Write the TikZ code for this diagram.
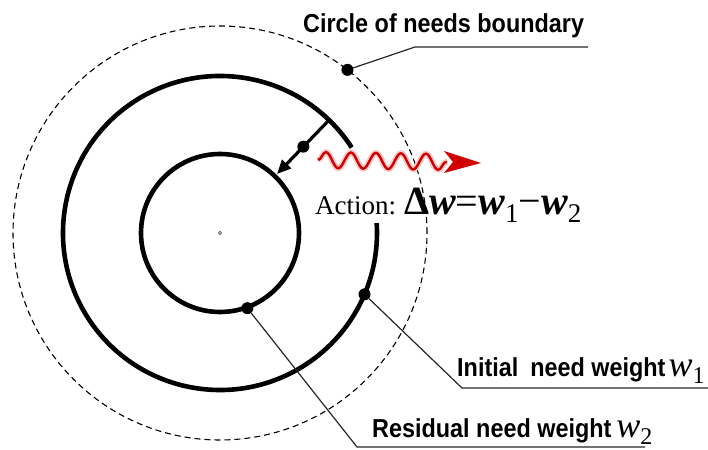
\documentclass[tikz,border=0pt]{standalone}
\usepackage{fontspec}
\setmainfont{Liberation Serif}
\newfontfamily\lab[FakeStretch=0.9]{Liberation Sans}
\usetikzlibrary{decorations.pathmorphing,arrows.meta,calc}
\newcommand\wsym[1]{{\rmfamily\mdseries\fontsize{36}{40}\selectfont\itshape w}\raisebox{-7pt}{\rmfamily\mdseries\fontsize{24}{26}\selectfont #1}}
\newcommand\bigF{\fontsize{40}{44}\selectfont}
\newcommand\subF{\fontsize{27}{29}\selectfont}
\begin{document}
\begin{tikzpicture}[x=1pt,y=1pt,
  thickc/.style={line width=4.6pt},
  dashc/.style={line width=1.1pt, dash pattern=on 6pt off 4pt},
  lead/.style={line width=1.2pt, black!85},
  dotn/.style={circle, fill=black, inner sep=0pt, minimum size=12pt},
  labtxt/.style={inner sep=0pt, anchor=base west, font=\lab\bfseries\fontsize{26}{30}\selectfont},
  wave/.style={decorate, decoration={snake, segment length=25pt, amplitude=8pt}},
]
\useasboundingbox (0,0) rectangle (708,449);
\coordinate (C) at (220,216);
% circles
\draw[dashc] (C) circle[radius=207pt];
\draw[thickc] (C) circle[radius=79pt];
\draw[thickc] ($(C)+(33:157pt)$) arc[start angle=33, end angle=363.6, radius=157pt];
\draw[line width=0.8pt, black!70] (C) circle[radius=1.6pt];
% dots
\node[dotn] (dOut) at ($(C)+(52:207pt)$) {};
\node[dotn] (dMid) at ($(C)+(-23:157pt)$) {};
\node[dotn] (dIn) at ($(C)+(-70:80pt)$) {};
% radial arrow
\coordinate (aS) at ($(C)+(46:157pt)$);
\coordinate (aE) at ($(C)+(46:82pt)$);
\draw[line width=3.2pt, -{Triangle[length=14pt,width=12pt]}] (aS) -- (aE);
\node[dotn] (dAr) at ($(C)+(46:120pt)$) {};
% wavy action arrow
\coordinate (wS) at (318,289);
\coordinate (wE) at (447,287);
\coordinate (wT) at (481,286);
\draw[wave, line width=6pt, red!22] (wS) -- (wE);
\draw[wave, line width=2.4pt, red!80!black] (wS) -- (wE);
\fill[red!82!black] (wT) -- ($(wE)+(-3,11)$) -- ($(wE)+(6,0)$) -- ($(wE)+(-3,-11)$) -- cycle;
% action text
\node[anchor=base west, inner sep=0pt] (tAct) at (315,234)
  {\fontsize{27}{30}\selectfont Action:\hspace{8pt}{\bigF\bfseries Δ}{\bigF\bfseries\itshape w}{\bigF=}{\bigF\bfseries\itshape w}\raisebox{-8pt}{\subF 1}{\bigF −}{\bigF\bfseries\itshape w}\raisebox{-8pt}{\subF 2}};
% labels and leaders
\node[labtxt] (tTop) at (303,416) {Circle of needs boundary};
\coordinate (kTop) at (415,402);
\coordinate (eTop) at (588,402);
\draw[lead] (dOut) -- (kTop) -- (eTop);
\node[labtxt] (tIni) at (457,72) {Initial\hspace{12pt}need weight\hspace{3pt}\wsym{1}};
\coordinate (kIni) at (462,61);
\coordinate (eIni) at (708,61);
\draw[lead] (dMid) -- (kIni) -- (eIni);
\node[labtxt] (tRes) at (372,12) {Residual need weight\hspace{5pt}\wsym{2}};
\coordinate (kRes) at (357,2);
\coordinate (eRes) at (645,2);
\draw[lead] (dIn) -- (kRes) -- (eRes);
\end{tikzpicture}
\end{document}
